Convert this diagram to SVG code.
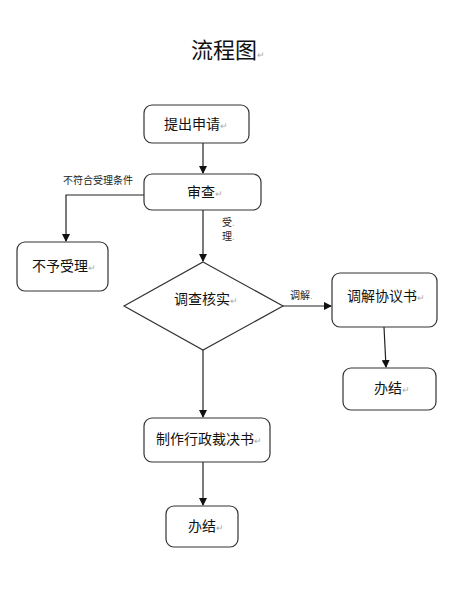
<svg xmlns="http://www.w3.org/2000/svg" width="464" height="613" viewBox="0 0 464 613">
<style>
.box{fill:#fff;stroke:#333;stroke-width:1.2}
.t{font-family:"Noto Sans CJK SC","Liberation Sans",sans-serif;font-size:14px;fill:#111}
.s{font-family:"Noto Sans CJK SC","Liberation Sans",sans-serif;font-size:10px;fill:#222}
.m{fill:#aaa;font-size:9px}
.ln{fill:none;stroke:#222;stroke-width:1.2}
</style>
<defs>
<marker id="ah" markerWidth="8" markerHeight="8" refX="7" refY="4" orient="auto" markerUnits="userSpaceOnUse">
<path d="M0,0 L8,4 L0,8 Z" fill="#111"/>
</marker>
</defs>
<rect width="464" height="613" fill="#fff"/>
<text x="228" y="58" text-anchor="middle" style="font-family:'Noto Sans CJK SC',sans-serif;font-size:22px;fill:#111">流程图<tspan class="m" font-size="10">↵</tspan></text>
<g id="connectors">
<line class="ln" x1="203" y1="143" x2="203" y2="173" marker-end="url(#ah)"/>
<polyline class="ln" points="144,195 66,195 66,241" marker-end="url(#ah)"/>
<line class="ln" x1="203" y1="210" x2="203" y2="261" marker-end="url(#ah)"/>
<line class="ln" x1="283" y1="306" x2="331" y2="306" marker-end="url(#ah)"/>
<line class="ln" x1="384" y1="327" x2="386" y2="367" marker-end="url(#ah)"/>
<line class="ln" x1="203" y1="350" x2="203" y2="417" marker-end="url(#ah)"/>
<line class="ln" x1="203" y1="462" x2="203" y2="505" marker-end="url(#ah)"/>
<text class="s" x="63" y="184">不符合受理条件</text>
<text class="s" x="222" y="226">受<tspan class="m" font-size="6">.</tspan></text>
<text class="s" x="222" y="240">理<tspan class="m" font-size="6">.</tspan></text>
<text class="s" x="290" y="299">调解<tspan class="m" font-size="6">.</tspan></text>
</g>
<g id="n1"><rect class="box" x="144" y="105" width="105" height="38" rx="8"/><text class="t" x="196" y="129" text-anchor="middle">提出申请<tspan class="m">↵</tspan></text></g>
<g id="n2"><rect class="box" x="144" y="174" width="117" height="36" rx="8"/><text class="t" x="205" y="197" text-anchor="middle">审查<tspan class="m">↵</tspan></text></g>
<g id="n3"><rect class="box" x="17" y="242" width="91" height="49" rx="8"/><text class="t" x="64" y="271" text-anchor="middle">不予受理<tspan class="m">↵</tspan></text></g>
<g id="n4"><polygon class="box" points="203,262 283,306 203,350 124,306"/><text class="t" x="206" y="304" text-anchor="middle">调查核实<tspan class="m">↵</tspan></text></g>
<g id="n5"><rect class="box" x="332" y="273" width="105" height="54" rx="8"/><text class="t" x="386" y="301" text-anchor="middle">调解协议书<tspan class="m">↵</tspan></text></g>
<g id="n6"><rect class="box" x="343" y="368" width="93" height="42" rx="8"/><text class="t" x="392" y="393" text-anchor="middle">办结<tspan class="m">↵</tspan></text></g>
<g id="n7"><rect class="box" x="144" y="418" width="126" height="44" rx="8"/><text class="t" x="209" y="444" text-anchor="middle">制作行政裁决书<tspan class="m">↵</tspan></text></g>
<g id="n8"><rect class="box" x="166" y="506" width="72" height="41" rx="8"/><text class="t" x="206" y="531" text-anchor="middle">办结<tspan class="m">↵</tspan></text></g>
</svg>
